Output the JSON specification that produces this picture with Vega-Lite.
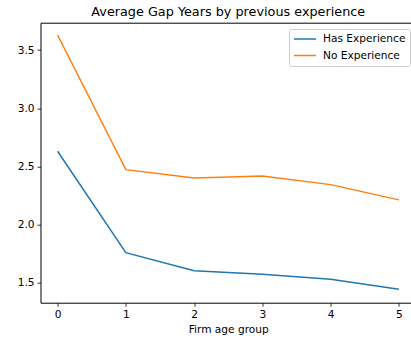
{
  "$schema": "https://vega.github.io/schema/vega-lite/v6.json",
  "autosize": {"type": "none"},
  "padding": {"left": 40.5, "top": 22.7, "right": 0, "bottom": 39.3},
  "width": 375.5,
  "height": 280,
  "background": "white",
  "title": {
    "text": "Average Gap Years by previous experience",
    "font": "DejaVu Sans",
    "fontSize": 12.8,
    "fontWeight": "normal",
    "color": "#000000",
    "anchor": "middle",
    "offset": 4
  },
  "data": {
    "values": [
      {"group": 0, "exp": "Has Experience", "years": 2.63},
      {"group": 1, "exp": "Has Experience", "years": 1.758},
      {"group": 2, "exp": "Has Experience", "years": 1.602},
      {"group": 3, "exp": "Has Experience", "years": 1.572},
      {"group": 4, "exp": "Has Experience", "years": 1.53},
      {"group": 5, "exp": "Has Experience", "years": 1.443},
      {"group": 0, "exp": "No Experience", "years": 3.629},
      {"group": 1, "exp": "No Experience", "years": 2.472},
      {"group": 2, "exp": "No Experience", "years": 2.401},
      {"group": 3, "exp": "No Experience", "years": 2.417},
      {"group": 4, "exp": "No Experience", "years": 2.343},
      {"group": 5, "exp": "No Experience", "years": 2.212}
    ]
  },
  "mark": {"type": "line", "strokeWidth": 1.5, "clip": true},
  "encoding": {
    "x": {
      "field": "group",
      "type": "quantitative",
      "scale": {"domain": [-0.25, 5.25], "nice": false, "zero": false},
      "axis": {"values": [0, 1, 2, 3, 4, 5], "format": "d", "title": "Firm age group"}
    },
    "y": {
      "field": "years",
      "type": "quantitative",
      "scale": {"domain": [1.328, 3.735], "nice": false, "zero": false},
      "axis": {"values": [1.5, 2.0, 2.5, 3.0, 3.5], "format": ".1f", "title": null}
    },
    "color": {
      "field": "exp",
      "type": "nominal",
      "scale": {"domain": ["Has Experience", "No Experience"], "range": ["#1f77b4", "#ff7f0e"]},
      "legend": {
        "title": null,
        "orient": "none",
        "legendX": 248.5,
        "legendY": 6.3,
        "symbolType": "stroke",
        "symbolSize": 484,
        "symbolStrokeWidth": 1.5,
        "clipHeight": 12,
        "rowPadding": 4.6,
        "labelFont": "DejaVu Sans",
        "labelFontSize": 10.6,
        "labelColor": "#000000",
        "labelOffset": 6,
        "padding": 4,
        "strokeColor": "#cccccc",
        "fillColor": "white",
        "cornerRadius": 2
      }
    }
  },
  "config": {
    "view": {"stroke": "#000000", "strokeWidth": 1},
    "axis": {
      "grid": false,
      "domain": false,
      "tickColor": "#000000",
      "tickSize": 3.5,
      "tickWidth": 0.8,
      "labelFont": "DejaVu Sans",
      "labelFontSize": 10.6,
      "labelColor": "#000000",
      "labelPadding": 3,
      "titleFont": "DejaVu Sans",
      "titleFontSize": 10.6,
      "titleFontWeight": "normal",
      "titleColor": "#000000",
      "titlePadding": 5
    }
  }
}
